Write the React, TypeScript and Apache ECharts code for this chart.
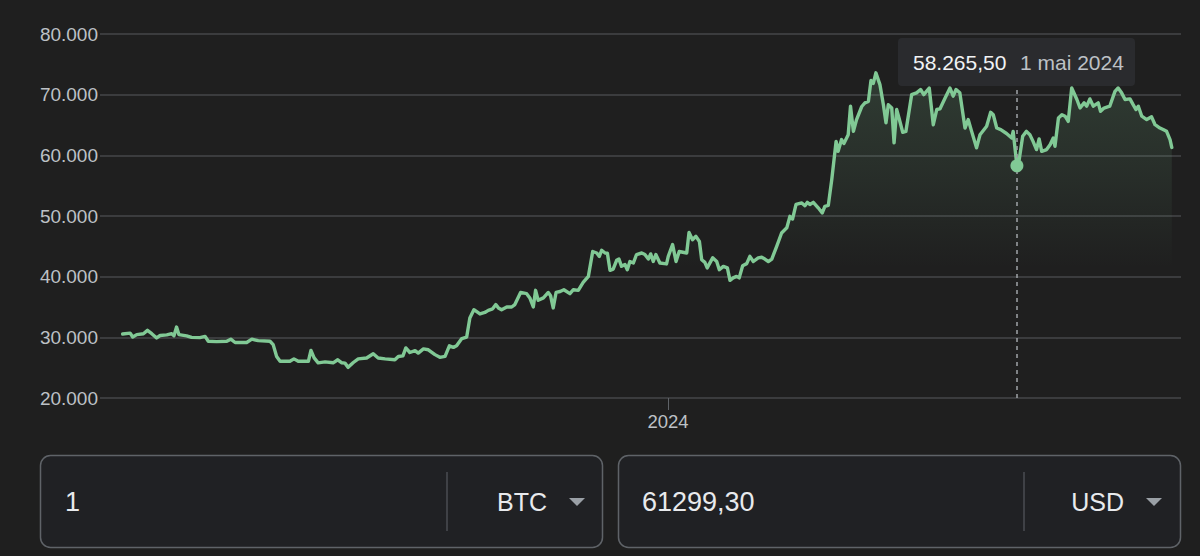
import React, { useEffect, useRef } from 'react';
import * as echarts from 'echarts';

const DAY_OFFSETS: number[] = [
  -189.1, -186.5, -185.6, -184.2, -181.9, -180.5, -179.0, -177.3, -176.1, -173.8,
  -172.1, -171.3, -170.4, -169.6, -166.9, -165.2, -162.3, -160.5, -159.4, -156.5,
  -153.0, -151.6, -150.1, -146.1, -144.3, -142.1, -138.0, -136.9, -135.7, -134.5,
  -131.1, -129.7, -128.2, -124.7, -123.8, -122.7, -121.3, -118.9, -116.1, -114.5,
  -113.1, -112.0, -110.9, -109.1, -107.4, -104.5, -102.2, -100.5, -98.1, -94.7,
  -93.5, -91.9, -90.9, -89.5, -87.7, -86.6, -84.8, -83.1, -80.8, -79.1,
  -77.3, -75.8, -74.4, -73.3, -71.5, -69.8, -68.7, -67.3, -65.2, -63.5,
  -62.3, -60.8, -59.7, -58.8, -57.7, -55.9, -54.2, -53.1, -51.1, -49.0,
  -47.9, -46.7, -45.9, -45.0, -43.2, -41.5, -40.7, -39.8, -38.8, -37.4,
  -36.1, -34.0, -32.8, -31.1, -29.4, -27.6, -26.1, -24.7, -23.8, -23.0,
  -21.8, -21.0, -20.1, -19.0, -17.8, -17.0, -16.1, -14.9, -14.1, -13.2,
  -12.0, -10.9, -9.1, -8.0, -6.8, -6.0, -5.1, -4.2, -2.8, -0.5,
  0.1, 1.6, 2.8, 3.9, 6.5, 7.3, 8.5, 9.7, 10.9, 11.7,
  12.8, 13.6, 15.5, 16.9, 17.8, 19.2, 20.6, 21.5, 22.6, 23.8,
  24.7, 25.9, 27.3, 28.4, 29.6, 31.3, 32.5, 33.6, 34.8, 36.0,
  37.7, 39.4, 41.2, 42.3, 43.2, 44.4, 46.4, 47.5, 48.3, 49.2,
  50.4, 52.1, 53.5, 54.4, 55.6, 56.8, 58.3, 59.0, 60.2, 61.0,
  62.5, 63.3, 64.3, 65.4, 67.2, 68.3, 69.5, 70.4, 71.2, 72.1,
  73.5, 74.7, 75.6, 76.4, 77.6, 78.4, 79.3, 80.2, 81.4, 82.5,
  84.5, 86.2, 87.6, 88.7, 90.6, 92.0, 93.2, 94.3, 96.1, 97.8,
  98.9, 99.9, 101.2, 103.0, 104.1, 105.3, 107.0, 108.2, 110.5, 111.9,
  112.8, 114.0, 115.4, 117.4, 119.2, 119.7, 121.0, 121.8, 123.0, 124.3,
  125.5, 126.6, 127.8, 128.7, 129.6, 131.3, 132.5, 133.6, 134.2, 135.4,
  136.6, 137.7, 138.8, 140.0, 141.8, 142.9, 144.3, 145.2, 146.3, 147.5,
  149.2, 150.0, 151.2, 153.2, 155.0, 156.1, 157.3, 158.5, 160.2, 161.3,
  162.3, 163.1, 164.3, 166.0, 167.7, 168.9, 170.6, 171.7, 172.9, 174.1,
  174.7,
];

// BTC price in USD at those points
const PRICES: number[] = [
  30550, 30700, 30050, 30450, 30600, 31150, 30600, 29900, 30300, 30400,
  30600, 30250, 31700, 30450, 30250, 30000, 29950, 30150, 29350, 29300,
  29350, 29700, 29150, 29150, 29700, 29450, 29350, 28800, 26850, 26050,
  26050, 26450, 26050, 26050, 27850, 26600, 25800, 25950, 25800, 26300,
  25800, 25750, 25050, 25850, 26450, 26600, 27300, 26600, 26450, 26300,
  26850, 26950, 28250, 27500, 27800, 27400, 28100, 27950, 27150, 26700,
  26850, 28600, 28350, 28600, 29800, 30050, 33200, 34550, 33850, 34100,
  34450, 34700, 35400, 34850, 34550, 35000, 35000, 35400, 37400, 37200,
  36500, 35000, 37750, 36100, 36500, 37400, 36850, 34850, 37400, 37550,
  37850, 37200, 37850, 37750, 39050, 40050, 44150, 43900, 43350, 44350,
  43900, 43850, 41050, 41250, 42700, 42900, 41700, 42000, 41150, 42500,
  42250, 43650, 43900, 43650, 42900, 43750, 42500, 43650, 42250, 42100,
  43350, 45300, 42500, 44150, 43900, 47300, 46100, 46650, 45800, 42800,
  42350, 41450, 43100, 42500, 41150, 41700, 41450, 39400, 39800, 40050,
  39800, 41800, 42150, 43350, 42500, 43100, 43200, 42900, 42500, 42900,
  45000, 47200, 48050, 49950, 49500, 51900, 52150, 51700, 52250, 51900,
  52250, 51350, 50500, 51600, 51750, 56000, 62300, 60650, 62600, 61950,
  63400, 68100, 63950, 65900, 68050, 68650, 68900, 72350, 71850, 73600,
  71650, 68350, 65350, 68350, 67800, 62050, 67550, 66000, 63800, 63950,
  70000, 70300, 70850, 70000, 71100, 65050, 67550, 67650, 69450, 71100,
  69750, 70850, 70300, 64500, 65900, 63950, 61250, 63400, 64800, 67100,
  66700, 64500, 64250, 63600, 62850, 63950, 58265.5, 59300, 63150, 63950,
  63400, 62300, 60950, 62700, 60650, 60950, 61750, 62850, 61500, 66150,
  66700, 66450, 65600, 71100, 69200, 67800, 68650, 68100, 69300, 68100,
  68650, 67250, 67800, 68100, 70550, 71100, 70300, 69200, 69300, 68350,
  67550, 68100, 66450, 65900, 66350, 65050, 64500, 64250, 63950, 62600,
  61299.3,
];

const Y_TICKS: number[] = [20000, 30000, 40000, 50000, 60000, 70000, 80000];
const X_TICK_DAYS: number[] = [0]; // 1 Jan 2024
const X_TICK_LABELS: string[] = ['2024'];
const HOVER_DAY = 121; // 1 May 2024
const HOVER_PRICE = 58265.5;
const HOVER_VALUE_TEXT = '58.265,50';
const HOVER_DATE_TEXT = '1 mai 2024';
const FROM_AMOUNT = '1';
const FROM_CURRENCY = 'BTC';
const TO_AMOUNT = '61299,30';
const TO_CURRENCY = 'USD';

const FONT = '"Liberation Sans", Arial, Helvetica, sans-serif';
const GREEN = '#81c995';
const BG = '#1f1f1f';

function fmtThousands(v: number): string {
  return String(Math.round(v)).replace(/\B(?=(\d{3})+(?!\d))/g, '.');
}

export default function App() {
  const ref = useRef<HTMLDivElement>(null);

  useEffect(() => {
    if (!ref.current) return;
    const chart = echarts.init(ref.current, null, { renderer: 'svg', width: 1200, height: 556 });
    const seriesData = DAY_OFFSETS.map((d, i) => [d, PRICES[i]]);

    const textStyle = (size: number, color: string, align: string = 'left') => ({
      fill: color,
      fontSize: size,
      fontFamily: FONT,
      textAlign: align,
      align,
      textVerticalAlign: 'middle',
      verticalAlign: 'middle',
    });

    const option: any = {
      animation: false,
      backgroundColor: BG,
      grid: { left: 100, right: 19, top: 34, bottom: 158, containLabel: false },
      xAxis: {
        type: 'value',
        min: -196.95,
        max: 177.9,
        axisLine: { show: false },
        splitLine: { show: false },
        axisTick: {
          show: true,
          customValues: X_TICK_DAYS,
          length: 12,
          lineStyle: { color: '#5f6368', width: 1 },
        },
        axisLabel: {
          customValues: X_TICK_DAYS,
          formatter: (v: number) => {
            const i = X_TICK_DAYS.indexOf(Math.round(v));
            return i >= 0 ? X_TICK_LABELS[i] : '';
          },
          color: '#bdc1c6',
          fontSize: 18.5,
          fontFamily: FONT,
          margin: 14,
        },
      },
      yAxis: {
        type: 'value',
        min: Y_TICKS[0],
        max: Y_TICKS[Y_TICKS.length - 1],
        interval: Y_TICKS[1] - Y_TICKS[0],
        axisLine: { show: false },
        axisTick: { show: false },
        splitLine: { lineStyle: { color: '#46474a', width: 1.5 } },
        axisLabel: {
          formatter: (v: number) => fmtThousands(v),
          color: '#bdc1c6',
          fontSize: 19,
          fontFamily: FONT,
          margin: 2,
        },
      },
      series: [
        {
          type: 'line',
          data: seriesData,
          showSymbol: false,
          symbol: 'none',
          lineStyle: { color: GREEN, width: 3.4, join: 'round', cap: 'round' },
          itemStyle: { color: GREEN },
          areaStyle: {
            color: new echarts.graphic.LinearGradient(0, 0, 0, 1, [
              { offset: 0, color: 'rgba(129,201,149,0.24)' },
              { offset: 0.3, color: 'rgba(129,201,149,0.13)' },
              { offset: 0.6, color: 'rgba(129,201,149,0)' },
              { offset: 1, color: 'rgba(129,201,149,0)' },
            ]),
          },
          markLine: {
            silent: true,
            symbol: 'none',
            label: { show: false },
            lineStyle: { color: '#a0a4a8', width: 1.5, type: [4, 4] },
            data: [[{ coord: [HOVER_DAY, Y_TICKS[0]] }, { coord: [HOVER_DAY, 71500] }]],
          },
          markPoint: {
            silent: true,
            symbol: 'circle',
            symbolSize: 13,
            itemStyle: { color: GREEN },
            label: { show: false },
            data: [{ coord: [HOVER_DAY, HOVER_PRICE] }],
          },
        },
      ],
      graphic: [
        {
          type: 'rect',
          z: 100,
          shape: { x: 898, y: 38, width: 237, height: 48, r: 4 },
          style: { fill: '#2a2b2e' },
        },
        {
          type: 'text',
          z: 101,
          x: 913,
          y: 62,
          style: { text: HOVER_VALUE_TEXT, ...textStyle(21, '#f1f3f4') },
        },
        {
          type: 'text',
          z: 101,
          x: 1020,
          y: 62,
          style: { text: HOVER_DATE_TEXT, ...textStyle(21, '#bdc1c6') },
        },
        {
          type: 'rect',
          z: 50,
          shape: { x: 40.5, y: 455.5, width: 562, height: 92, r: 10 },
          style: { fill: '#202124', stroke: '#5f6368', lineWidth: 1.5 },
        },
        {
          type: 'line',
          z: 51,
          shape: { x1: 447, y1: 472, x2: 447, y2: 531 },
          style: { stroke: '#5f6368', lineWidth: 1 },
        },
        {
          type: 'text',
          z: 52,
          x: 65,
          y: 502,
          style: { text: FROM_AMOUNT, ...textStyle(27, '#e8eaed') },
        },
        {
          type: 'text',
          z: 52,
          x: 547,
          y: 502,
          style: { text: FROM_CURRENCY, ...textStyle(25, '#e8eaed', 'right') },
        },
        {
          type: 'polygon',
          z: 52,
          shape: { points: [[569, 498], [585, 498], [577, 506]] },
          style: { fill: '#9aa0a6' },
        },
        {
          type: 'rect',
          z: 50,
          shape: { x: 618.5, y: 455.5, width: 562, height: 92, r: 10 },
          style: { fill: '#202124', stroke: '#5f6368', lineWidth: 1.5 },
        },
        {
          type: 'line',
          z: 51,
          shape: { x1: 1024, y1: 472, x2: 1024, y2: 531 },
          style: { stroke: '#5f6368', lineWidth: 1 },
        },
        {
          type: 'text',
          z: 52,
          x: 642,
          y: 502,
          style: { text: TO_AMOUNT, ...textStyle(27, '#e8eaed') },
        },
        {
          type: 'text',
          z: 52,
          x: 1124,
          y: 502,
          style: { text: TO_CURRENCY, ...textStyle(25, '#e8eaed', 'right') },
        },
        {
          type: 'polygon',
          z: 52,
          shape: { points: [[1146, 498], [1162, 498], [1154, 506]] },
          style: { fill: '#9aa0a6' },
        },
      ],
    };

    chart.setOption(option);
    return () => chart.dispose();
  }, []);

  return (
    <div
      ref={ref}
      style={{ position: 'absolute', left: 0, top: 0, width: 1200, height: 556, background: BG }}
    />
  );
}
